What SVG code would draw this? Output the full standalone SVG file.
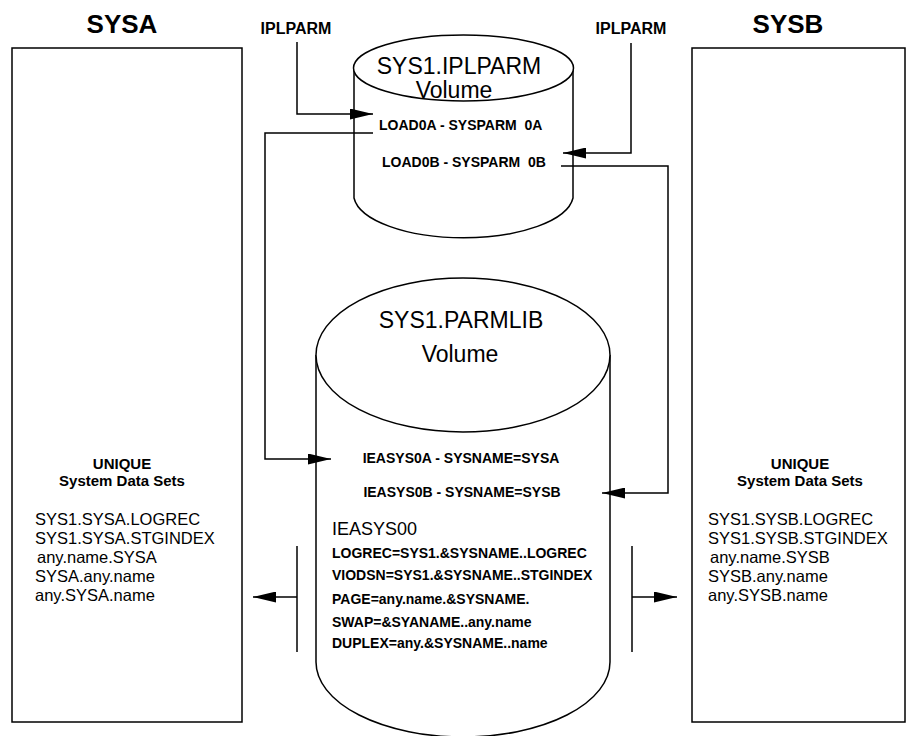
<svg xmlns="http://www.w3.org/2000/svg" width="913" height="736" viewBox="0 0 913 736">
  <defs>
    <style>
      .ln { fill: none; stroke: #000; stroke-width: 1.5; }
      .shape { fill: #fff; stroke: #000; stroke-width: 1.5; }
      text { font-family: "Liberation Sans", Arial, sans-serif; fill: #000; }
      .title { font-size: 26px; font-weight: bold; }
      .ipl { font-size: 16px; font-weight: bold; }
      .vol { font-size: 23px; }
      .mem { font-size: 14px; font-weight: bold; white-space: pre; }
      .head { font-size: 18px; }
      .uniq { font-size: 15px; font-weight: bold; }
      .ds { font-size: 16.5px; }
    </style>
    <marker id="ah" viewBox="0 0 23 11" refX="23" refY="5.5" markerWidth="23" markerHeight="11" orient="auto" markerUnits="userSpaceOnUse">
      <path d="M0,0 L23,5.5 L0,11 z" fill="#000"/>
    </marker>
  </defs>
  <rect width="913" height="736" fill="#fff"/>

  <!-- System A -->
  <g id="sysa">
    <text class="title" x="122" y="33" text-anchor="middle">SYSA</text>
    <rect class="shape" x="12" y="48" width="230" height="674"/>
    <text class="uniq" x="122" y="469" text-anchor="middle">UNIQUE</text>
    <text class="uniq" x="122" y="486" text-anchor="middle">System Data Sets</text>
    <text class="ds" x="35" y="525">SYS1.SYSA.LOGREC</text>
    <text class="ds" x="35" y="544">SYS1.SYSA.STGINDEX</text>
    <text class="ds" x="37" y="563">any.name.SYSA</text>
    <text class="ds" x="35" y="582">SYSA.any.name</text>
    <text class="ds" x="35" y="601">any.SYSA.name</text>
  </g>

  <!-- System B -->
  <g id="sysb">
    <text class="title" x="788" y="33" text-anchor="middle">SYSB</text>
    <rect class="shape" x="692" y="48" width="213" height="674"/>
    <text class="uniq" x="800" y="469" text-anchor="middle">UNIQUE</text>
    <text class="uniq" x="800" y="486" text-anchor="middle">System Data Sets</text>
    <text class="ds" x="708" y="525">SYS1.SYSB.LOGREC</text>
    <text class="ds" x="708" y="544">SYS1.SYSB.STGINDEX</text>
    <text class="ds" x="710" y="563">any.name.SYSB</text>
    <text class="ds" x="708" y="582">SYSB.any.name</text>
    <text class="ds" x="708" y="601">any.SYSB.name</text>
  </g>

  <!-- IPL parameter volume -->
  <g id="iplparm-volume">
    <path class="shape" d="M354,68 L354,198 A110,44 0 0 0 573,198 L573,68"/>
    <ellipse class="shape" cx="463.5" cy="68" rx="110" ry="33"/>
    <text class="vol" x="459" y="74" text-anchor="middle">SYS1.IPLPARM</text>
    <text class="vol" x="454" y="98" text-anchor="middle">Volume</text>
    <text class="mem" x="379" y="130">LOAD0A - SYSPARM  0A</text>
    <text class="mem" x="382" y="167">LOAD0B - SYSPARM  0B</text>
  </g>

  <!-- Parmlib volume -->
  <g id="parmlib-volume">
    <path class="shape" d="M316,355 L316,662 A147,75 0 0 0 610,662 L610,355"/>
    <ellipse class="shape" cx="463" cy="355" rx="147" ry="77"/>
    <text class="vol" x="461" y="328" text-anchor="middle">SYS1.PARMLIB</text>
    <text class="vol" x="460" y="362" text-anchor="middle">Volume</text>
    <text class="mem" x="461" y="463" text-anchor="middle">IEASYS0A - SYSNAME=SYSA</text>
    <text class="mem" x="462" y="497" text-anchor="middle">IEASYS0B - SYSNAME=SYSB</text>
    <text class="head" x="332" y="535">IEASYS00</text>
    <text class="mem" x="332" y="558">LOGREC=SYS1.&amp;SYSNAME..LOGREC</text>
    <text class="mem" x="332" y="580">VIODSN=SYS1.&amp;SYSNAME..STGINDEX</text>
    <text class="mem" x="332" y="604">PAGE=any.name.&amp;SYSNAME.</text>
    <text class="mem" x="332" y="627">SWAP=&amp;SYANAME..any.name</text>
    <text class="mem" x="332" y="648">DUPLEX=any.&amp;SYSNAME..name</text>
  </g>

  <!-- IPLPARM labels -->
  <g id="iplparm-a">
    <text class="ipl" x="296" y="34" text-anchor="middle">IPLPARM</text>
  </g>
  <g id="iplparm-b">
    <text class="ipl" x="631" y="34" text-anchor="middle">IPLPARM</text>
  </g>

  <!-- Connectors -->
  <g id="connectors">
    <path class="ln" d="M297,42 V114 H373" marker-end="url(#ah)"/>
    <path class="ln" d="M631,43 V153 H563" marker-end="url(#ah)"/>
    <path class="ln" d="M373,133 H265 V459 H331" marker-end="url(#ah)"/>
    <path class="ln" d="M561,166 H668 V493 H602" marker-end="url(#ah)"/>
    <path class="ln" d="M297,546 V652"/>
    <path class="ln" d="M632,546 V652"/>
    <path class="ln" d="M297,597 H253" marker-end="url(#ah)"/>
    <path class="ln" d="M632,597 H677" marker-end="url(#ah)"/>
  </g>
</svg>
